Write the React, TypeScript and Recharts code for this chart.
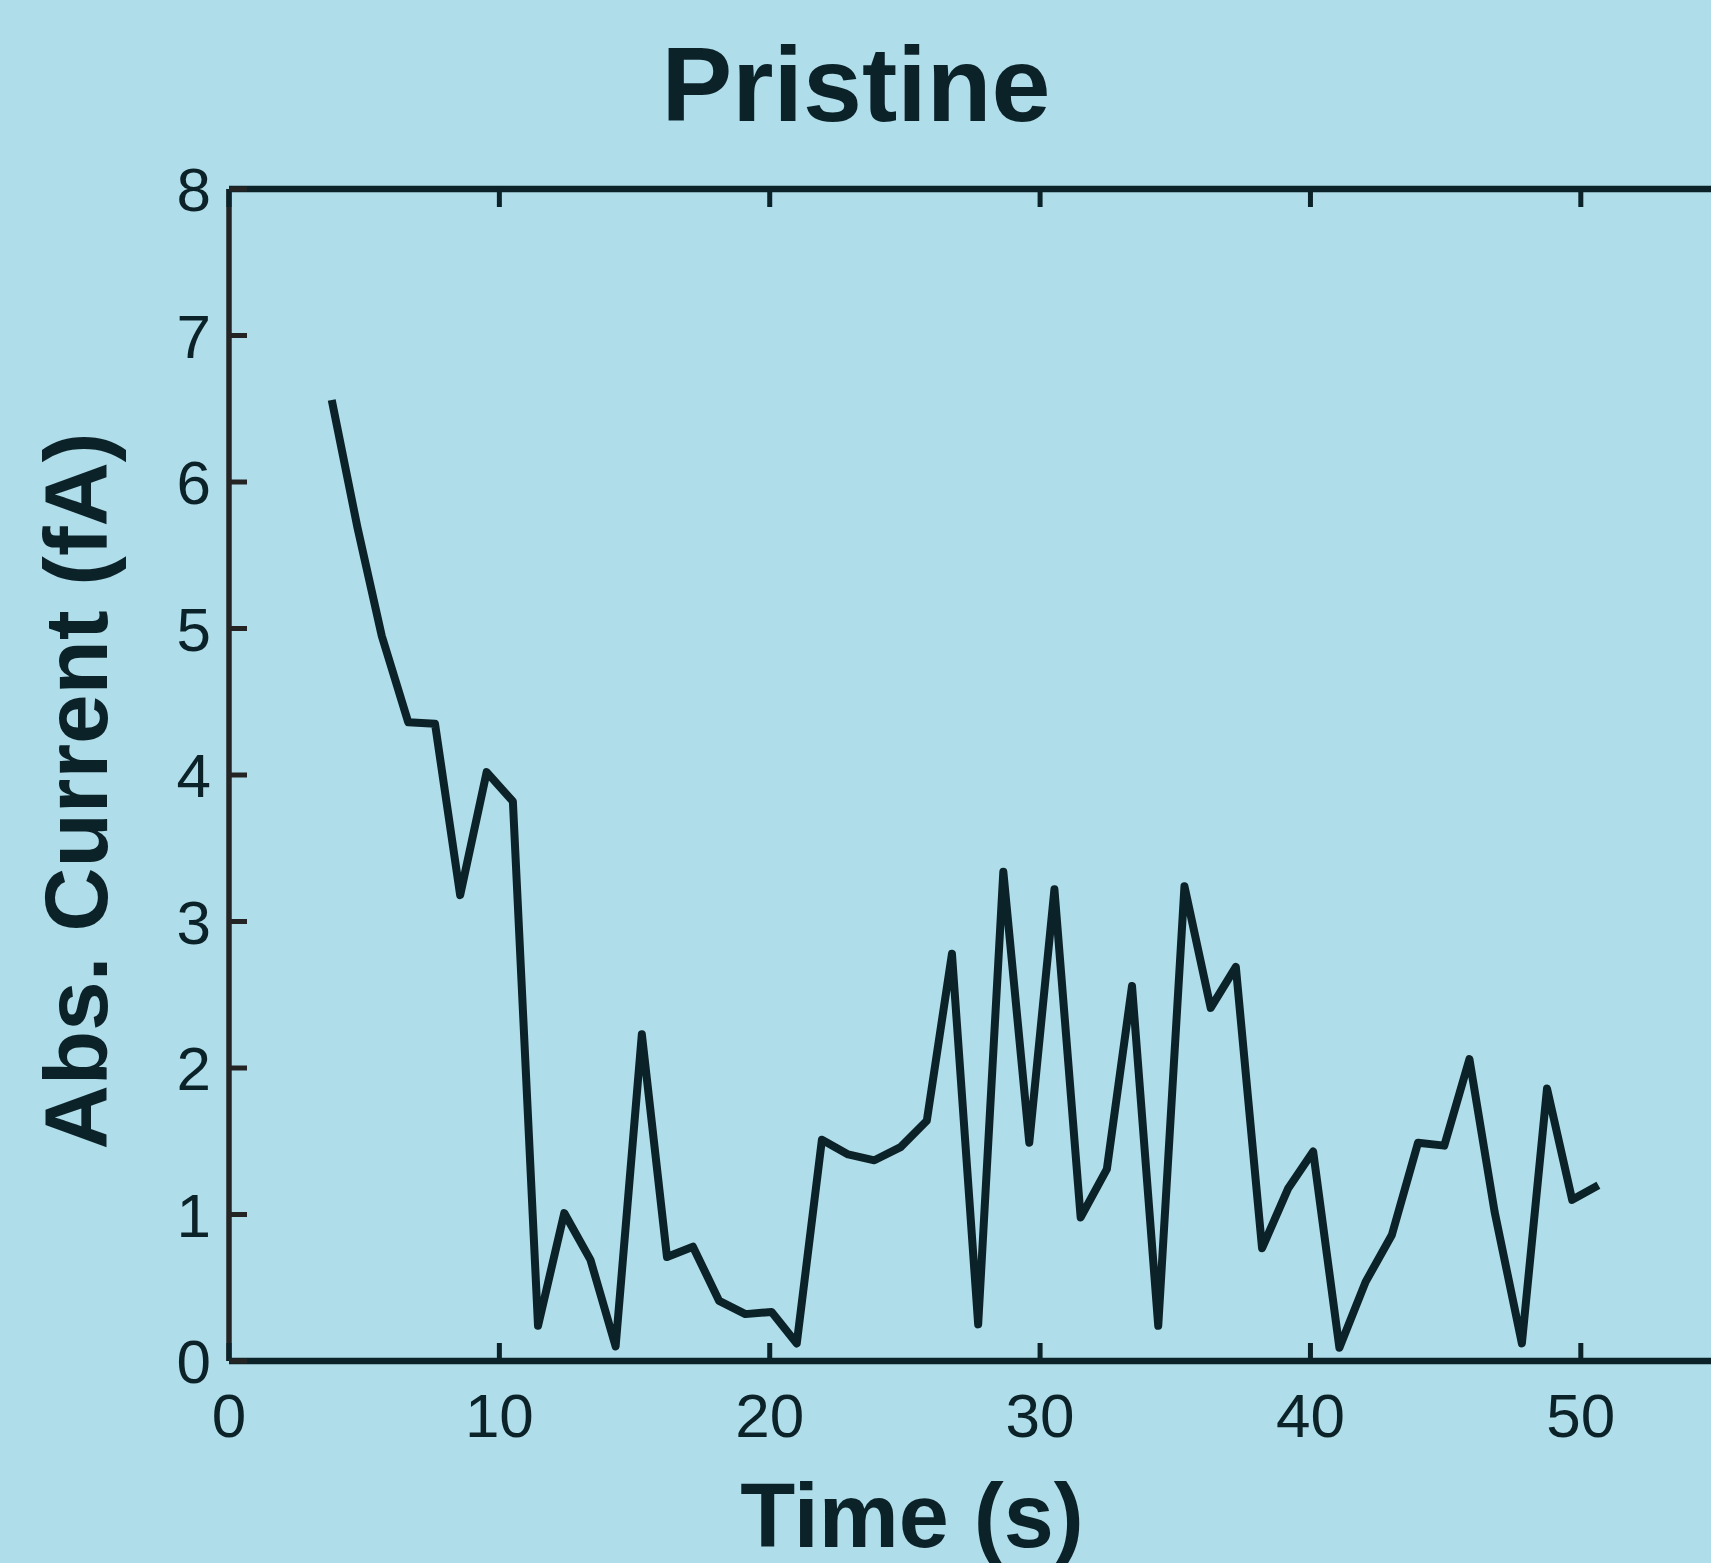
import React from "react";
import {LineChart, Line, XAxis, YAxis} from "recharts";

// time (s) and absolute current (fA)
const times = [
    3.8, 4.75, 5.65, 6.63, 7.62, 8.55, 9.53, 10.5, 11.43, 12.4,
    13.37, 14.3, 15.27, 16.2, 17.16, 18.13, 19.1, 20.07, 21.0, 21.93,
    22.9, 23.87, 24.84, 25.81, 26.74, 27.71, 28.64, 29.6, 30.53, 31.5,
    32.47, 33.4, 34.37, 35.34, 36.31, 37.24, 38.21, 39.18, 40.1, 41.07,
    42.04, 43.01, 43.98, 44.95, 45.88, 46.81, 47.82, 48.75, 49.68, 50.65,
];
const currents = [
    6.56, 5.69, 4.95, 4.36, 4.35, 3.18, 4.02, 3.82, 0.24, 1.01,
    0.69, 0.1, 2.23, 0.71, 0.78, 0.41, 0.32, 0.335, 0.12, 1.51,
    1.41, 1.37, 1.46, 1.64, 2.78, 0.25, 3.34, 1.49, 3.22, 0.98,
    1.31, 2.56, 0.24, 3.24, 2.41, 2.69, 0.77, 1.18, 1.43, 0.09,
    0.54, 0.86, 1.49, 1.47, 2.06, 1.02, 0.12, 1.86, 1.1, 1.2,
];
const xTicks = [0, 10, 20, 30, 40, 50];
const yTicks = [0, 1, 2, 3, 4, 5, 6, 7, 8];

const title = "Pristine";
const xLabel = "Time (s)";
const yLabel = "Abs. Current (fA)";

const BG = "#afdde9";
const INK = "#0c2229";
const FONT = "'Liberation Sans', Arial, Helvetica, sans-serif";
const TICK = 18;

const data = times.map((t, i) => ({time: t, current: currents[i]}));

const BottomTick = (props: any) => {
    const {x, y, payload} = props;
    return (
        <g>
            <line x1={x} y1={y} x2={x} y2={y - TICK} stroke={INK} strokeWidth={5}/>
            <text x={x} y={y + 76} textAnchor="middle" fontSize={62} fontFamily={FONT} fill={INK}>
                {payload.value}
            </text>
        </g>
    );
};

const LeftTick = (props: any) => {
    const {x, y, payload} = props;
    return (
        <g>
            <line x1={x} y1={y} x2={x + TICK} y2={y} stroke="#242424" strokeWidth={5}/>
            <text x={x - 18} y={y} dy="0.36em" textAnchor="end" fontSize={62} fontFamily={FONT} fill={INK}>
                {payload.value}
            </text>
        </g>
    );
};

const TopTick = (props: any) => {
    const {x, y} = props;
    return <line x1={x} y1={y} x2={x} y2={y + TICK} stroke={INK} strokeWidth={5}/>;
};

const RightTick = (props: any) => {
    const {x, y} = props;
    return <line x1={x} y1={y} x2={x - TICK} y2={y} stroke={INK} strokeWidth={5}/>;
};

const App = () => {
    return (
        <div style={{position: "fixed", left: 0, top: 0, width: 1711, height: 1563, overflow: "hidden", background: BG}}>
            <LineChart width={1720} height={1563} data={data}
                       margin={{top: 188, right: 3, bottom: 201, left: 228}}>
                <XAxis xAxisId={0} dataKey="time" type="number" domain={[0, 55]} ticks={xTicks}
                       orientation="bottom" height={1} tickSize={0} tickMargin={0} tickLine={false}
                       axisLine={{stroke: INK, strokeWidth: 6.5}} tick={<BottomTick/>} interval={0}/>
                <XAxis xAxisId="top" dataKey="time" type="number" domain={[0, 55]} ticks={xTicks}
                       orientation="top" height={1} tickSize={0} tickMargin={0} tickLine={false}
                       axisLine={{stroke: INK, strokeWidth: 6.5}} tick={<TopTick/>} interval={0}/>
                <YAxis yAxisId={0} type="number" domain={[0, 8]} ticks={yTicks}
                       orientation="left" width={1} tickSize={0} tickMargin={0} tickLine={false}
                       axisLine={{stroke: "#242424", strokeWidth: 5.5}} tick={<LeftTick/>} interval={0}/>
                <YAxis yAxisId="right" type="number" domain={[0, 8]} ticks={yTicks}
                       orientation="right" width={1} tickSize={0} tickMargin={0} tickLine={false}
                       axisLine={{stroke: INK, strokeWidth: 6}} tick={<RightTick/>} interval={0}/>
                <Line xAxisId={0} yAxisId={0} type="linear" dataKey="current" stroke={INK}
                      strokeWidth={8} strokeLinejoin="round" strokeLinecap="butt"
                      dot={false} activeDot={false} isAnimationActive={false}/>
            </LineChart>
            <svg width={1711} height={1563} style={{position: "absolute", left: 0, top: 0, pointerEvents: "none"}}>
                <text x={856} y={121} textAnchor="middle" fontSize={106} fontWeight="bold" fontFamily={FONT} fill={INK}>
                    {title}
                </text>
                <text x={912} y={1547} textAnchor="middle" fontSize={90} fontWeight="bold" fontFamily={FONT} fill={INK}>
                    {xLabel}
                </text>
                <text x={107} y={791} textAnchor="middle" fontSize={89} fontWeight="bold" fontFamily={FONT} fill={INK}
                      transform="rotate(-90, 107, 791)">
                    {yLabel}
                </text>
            </svg>
        </div>
    );
};

export default App;
